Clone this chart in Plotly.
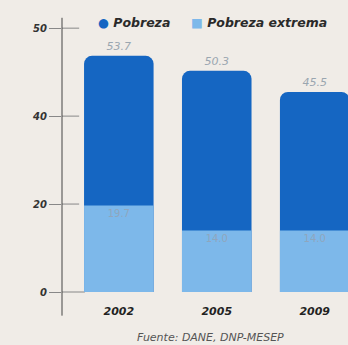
import plotly.graph_objects as go

years = ["2002", "2005", "2009"]
pobreza = [53.7, 50.3, 45.5]
pobreza_extrema = [19.7, 14.0, 14.0]
tick_vals = [0, 20, 40, 60]
tick_text = ["0", "20", "40", "50"]  # top label as printed in the reference
series_names = ["Pobreza", "Pobreza extrema"]
fuente = "Fuente: DANE, DNP-MESEP"

DARK = "#1566c2"
LIGHT = "#7db8ea"
BG = "#f0ece7"
FONT = "DejaVu Sans"

fig = go.Figure()
fig.add_trace(go.Bar(
    x=years, y=pobreza, name=series_names[0], showlegend=False,
    marker=dict(color=DARK, cornerradius=8, line=dict(width=0)),
    width=0.71,
    text=[f"{v:.1f}" for v in pobreza], textposition="outside",
    textfont=dict(family=FONT, size=11, color="#9aa6b0", style="italic"),
    cliponaxis=False,
))
fig.add_trace(go.Bar(
    x=years, y=pobreza_extrema, name=series_names[1], showlegend=False,
    marker=dict(color=LIGHT, cornerradius=8, line=dict(width=0)),
    width=0.71,
    text=[f"{v:.1f}" for v in pobreza_extrema], textposition="inside",
    insidetextanchor="end",
    textfont=dict(family=FONT, size=10, color="#8fa6bd"),
))

shapes = [dict(type="line", xref="paper", yref="paper", x0=0, x1=0, y0=-0.045, y1=1.015,
               line=dict(color="#444", width=1))]
for v in tick_vals:
    shapes.append(dict(type="line", xref="paper", yref="y", x0=0, x1=0.06 if v else 0.08,
                       y0=v, y1=v, line=dict(color="#888", width=1), layer="below"))

legend_font = dict(family=FONT, size=12.5, color="#2a2a2a", weight="bold", style="italic")
annotations = [
    dict(text=f"<span style='color:{DARK}'>●</span> {series_names[0]}",
         xref="paper", yref="paper", x=0.12, y=1.0, xanchor="left", yanchor="middle",
         showarrow=False, font=legend_font),
    dict(text=f"<span style='color:{LIGHT}'>■</span> {series_names[1]}",
         xref="paper", yref="paper", x=0.445, y=1.0, xanchor="left", yanchor="middle",
         showarrow=False, font=legend_font),
    dict(text=fuente, xref="paper", yref="paper", x=0.52, y=-0.121,
         xanchor="center", yanchor="middle", showarrow=False,
         font=dict(family=FONT, size=11, color="#555", style="italic")),
]

fig.update_layout(
    width=348, height=345,
    margin=dict(l=62, r=0, t=22, b=42, autoexpand=False),
    paper_bgcolor=BG, plot_bgcolor=BG,
    barmode="overlay",
    showlegend=False,
    xaxis=dict(range=[-0.58, 2.34], showgrid=False, showline=False, ticks="",
               tickfont=dict(family=FONT, size=11, color="#222", weight="bold", style="italic"),
               fixedrange=True),
    yaxis=dict(range=[-2.5, 61.4], tickvals=tick_vals, ticktext=tick_text,
               showgrid=False, zeroline=False, showline=False,
               ticks="outside", ticklen=12, tickcolor="#888",
               tickfont=dict(family=FONT, size=10, color="#333", weight="bold", style="italic"),
               fixedrange=True),
    shapes=shapes,
    annotations=annotations,
)

fig.write_html("out.html", config={"displayModeBar": False},
               post_script="document.body.style.margin='0';document.body.style.overflow='hidden';")
